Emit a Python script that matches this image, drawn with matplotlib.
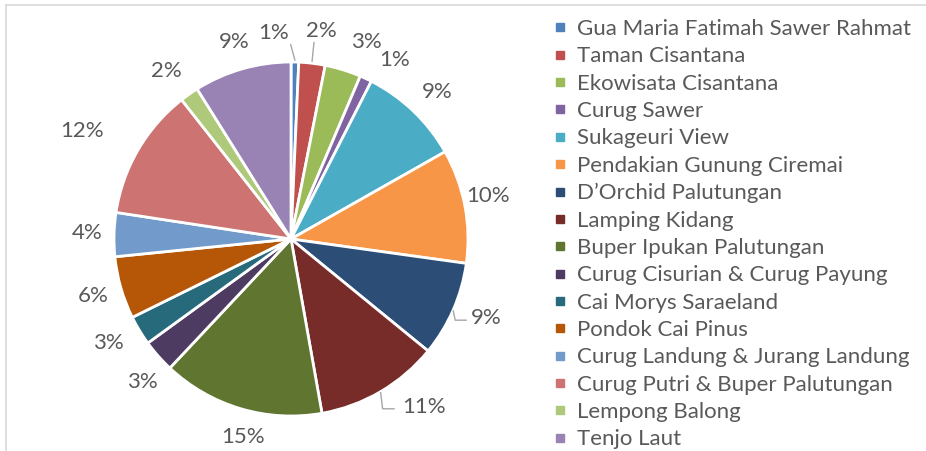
import numpy as np
import matplotlib.pyplot as plt
from matplotlib.lines import Line2D

plt.rcParams['font.family'] = ['Lato', 'DejaVu Sans']

places = ['Gua Maria Fatimah Sawer Rahmat', 'Taman Cisantana', 'Ekowisata Cisantana',
          'Curug Sawer', 'Sukageuri View', 'Pendakian Gunung Ciremai',
          'D\u2019Orchid Palutungan', 'Lamping Kidang', 'Buper Ipukan Palutungan',
          'Curug Cisurian & Curug Payung', 'Cai Morys Saraeland', 'Pondok Cai Pinus',
          'Curug Landung & Jurang Landung', 'Curug Putri & Buper Palutungan',
          'Lempong Balong', 'Tenjo Laut']
share = [0.7, 2.4, 3.3, 1.1, 9.3, 10.4, 8.7, 11.3, 14.8, 3.0, 2.7, 5.7, 4.0, 12.0, 1.7, 8.9]
colors = ['#4F81BD', '#C0504D', '#9BBB59', '#8064A2', '#4BACC6', '#F79646',
          '#2C4D75', '#772C2A', '#5F7530', '#4D3B62', '#276A7C', '#B65708',
          '#729ACA', '#CD7371', '#AFC97A', '#9983B5']

# label placement tweaks (degrees / radius factor), leader style per slice
label_shift = [-6, 1.5, 4, 5, 1, -1.5, -1.5, -8, -3, -2.5, 1.5, 0, 0.3, -3, -1.5, 0]
label_dist = [1.17, 1.19, 1.19, 1.17, 1.17, 1.14, 1.19, 1.21, 1.15, 1.165, 1.19, 1.16, 1.15, 1.33, 1.18, 1.16]
leader = ['up', 'up', None, None, None, None, 'elbow', 'elbow', None, None, None, None, None, None, None, None]

W, H = 926, 451
fig = plt.figure(figsize=(W / 100, H / 100), dpi=100)
ax = fig.add_axes([0, 0, 1, 1])

cx, cy, R = 291, H - 239, 177
wedges, _ = ax.pie(share, colors=colors, startangle=90, counterclock=False,
                   center=(cx, cy), radius=R, frame=True,
                   wedgeprops=dict(edgecolor='white', linewidth=2))
ax.set_xlim(0, W)
ax.set_ylim(0, H)
ax.set_aspect('equal')
ax.axis('off')

txt_color = '#595959'
fs = 16
total = sum(share)
start = 0.0
for i, v in enumerate(share):
    mid = start + v / total * 360 / 2
    start += v / total * 360
    th = np.radians(mid + label_shift[i])
    lx = cx + label_dist[i] * R * np.sin(th)
    ly = cy + label_dist[i] * R * np.cos(th)
    ax.text(lx, ly, '%.0f%%' % v, ha='center', va='center', fontsize=fs, color=txt_color)
    if leader[i]:
        m = np.radians(mid)
        px, py = cx + R * np.sin(m), cy + R * np.cos(m)
        if leader[i] == 'up':
            ex = px * 0.8 + lx * 0.2
            ax.plot([px, ex], [py + 2, ly - 12], color='#A6A6A6', lw=1)
        else:
            ax.plot([px, px + 2, lx - 30 if v >= 10 else lx - 20],
                    [py - 1, ly - 2, ly - 2], color='#A6A6A6', lw=1)

# chart area border (only top and left visible)
ax.plot([6, W], [H - 5, H - 5], color='#D9D9D9', lw=1.2, clip_on=False)
ax.plot([6, 6], [0, H - 5], color='#D9D9D9', lw=1.2, clip_on=False)

handles = [Line2D([], [], marker='s', ls='', color=c, markersize=6) for c in colors]
leg = ax.legend(handles, places, loc='upper left', bbox_to_anchor=(553 / W, 1 - 19 / H),
                frameon=False, fontsize=fs, borderpad=0, borderaxespad=0,
                handlelength=0.6, handletextpad=0.5, labelspacing=0.33)
for t in leg.get_texts():
    t.set_color(txt_color)

fig.savefig('out.png', dpi=100)
